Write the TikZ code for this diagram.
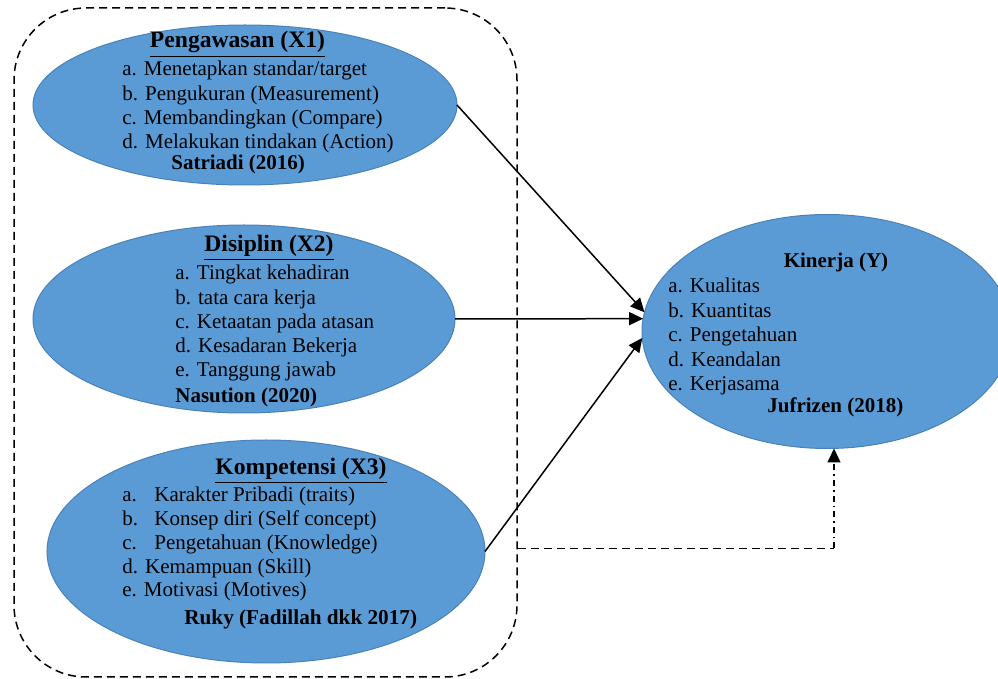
\documentclass[tikz,border=0pt]{standalone}
\usepackage{fontspec}
\setmainfont{Liberation Serif}
\usetikzlibrary{shapes.geometric,arrows.meta,calc}
\definecolor{varfill}{HTML}{5B9BD5}
\definecolor{varedge}{HTML}{4A82B8}
\tikzset{
  var/.style={ellipse, fill=varfill, draw=varedge, line width=0.5pt, inner sep=0pt, outer sep=0pt},
  item/.style={anchor=base west, inner sep=0pt, font=\fontsize{10.5}{12}\selectfont},
  src/.style={anchor=base west, inner sep=0pt, font=\fontsize{10.5}{12}\selectfont\bfseries},
  ttl/.style={anchor=base, inner sep=0pt, font=\fontsize{11.8}{14}\selectfont\bfseries},
  link/.style={-{Triangle[length=7pt,width=6.5pt]}, line width=0.75pt},
  grpbox/.style={draw, dash pattern=on 4pt off 2.5pt, line width=0.75pt, rounded corners=36pt,
    minimum width=251.5pt, minimum height=334.5pt, inner sep=0pt}
}
\begin{document}
\begin{tikzpicture}[x=0.5pt,y=-0.5pt]
        \useasboundingbox (0,0) rectangle (998,679);

        % 虚线框
        \node[grpbox] (grp) at (265.5,342.5) {};

        % 椭圆
        \node[var, minimum width=212pt, minimum height=80pt] (x1) at (245,105) {};
        \node[var, minimum width=211pt, minimum height=94pt] (x2) at (244,319) {};
        \node[var, minimum width=219pt, minimum height=111.5pt] (x3) at (266,551.5) {};
        \node[var, minimum width=185pt, minimum height=117pt] (y) at (827,331.5) {};

        % Pengawasan (X1)
        \node[ttl] (x1t) at (237.5,48) {\underline{Pengawasan (X1)}};
        \foreach \t [count=\i from 0] in {a. Menetapkan standar/target, b. Pengukuran (Measurement),
            c. Membandingkan (Compare), d. Melakukan tindakan (Action)}
          \node[item] (x1i\i) at (122,{76+24.3*\i}) {\t};
        \node[src] (x1s) at (171,170) {Satriadi (2016)};

        % Disiplin (X2)
        \node[ttl] (x2t) at (269,252) {\underline{Disiplin (X2)}};
        \foreach \t [count=\i from 0] in {a. Tingkat kehadiran, b. tata cara kerja,
            c. Ketaatan pada atasan, d. Kesadaran Bekerja, e. Tanggung jawab}
          \node[item] (x2i\i) at (175,{280+24.25*\i}) {\t};
        \node[src] (x2s) at (175,403) {Nasution (2020)};

        % Kompetensi (X3)
        \node[ttl] (x3t) at (301,475) {\underline{Kompetensi (X3)}};
        \foreach \t [count=\i from 0] in {{\makebox[16pt][l]{a.}Karakter Pribadi (traits)},
            {\makebox[16pt][l]{b.}Konsep diri (Self concept)},
            {\makebox[16pt][l]{c.}Pengetahuan (Knowledge)},
            d. Kemampuan (Skill), e. Motivasi (Motives)}
          \node[item] (x3i\i) at (122,{502+23.75*\i}) {\t};
        \node[src, font=\fontsize{10.6}{12}\selectfont\bfseries] (x3s) at (184,625) {Ruky (Fadillah dkk 2017)};

        % Kinerja (Y)
        \node[ttl, font=\fontsize{10.5}{12}\selectfont\bfseries] (yt) at (836,268) {Kinerja (Y)};
        \foreach \t [count=\i from 0] in {a. Kualitas, b. Kuantitas, c. Pengetahuan,
            d. Keandalan, e. Kerjasama}
          \node[item] (yi\i) at (668,{293+24.5*\i}) {\t};
        \node[src] (ys) at (767,413) {Jufrizen (2018)};

        % 箭头
        \draw[link] (x1.east) -- (y.174);
        \draw[link] (x2.east) -- (y.176);
        \draw[link] (x3.east) -- (y.182);

        % 虚线连接
        \coordinate (turn) at ($(y.south |- x3.east)+(7,-3)$);
        \draw[dash pattern=on 4pt off 2.5pt, line width=0.75pt] (grp.east |- turn) -- (turn);
        \draw[link, dash pattern=on 3pt off 2pt on 0.8pt off 2pt] (turn) -- (turn |- y.south);
    \end{tikzpicture}
\end{document}
